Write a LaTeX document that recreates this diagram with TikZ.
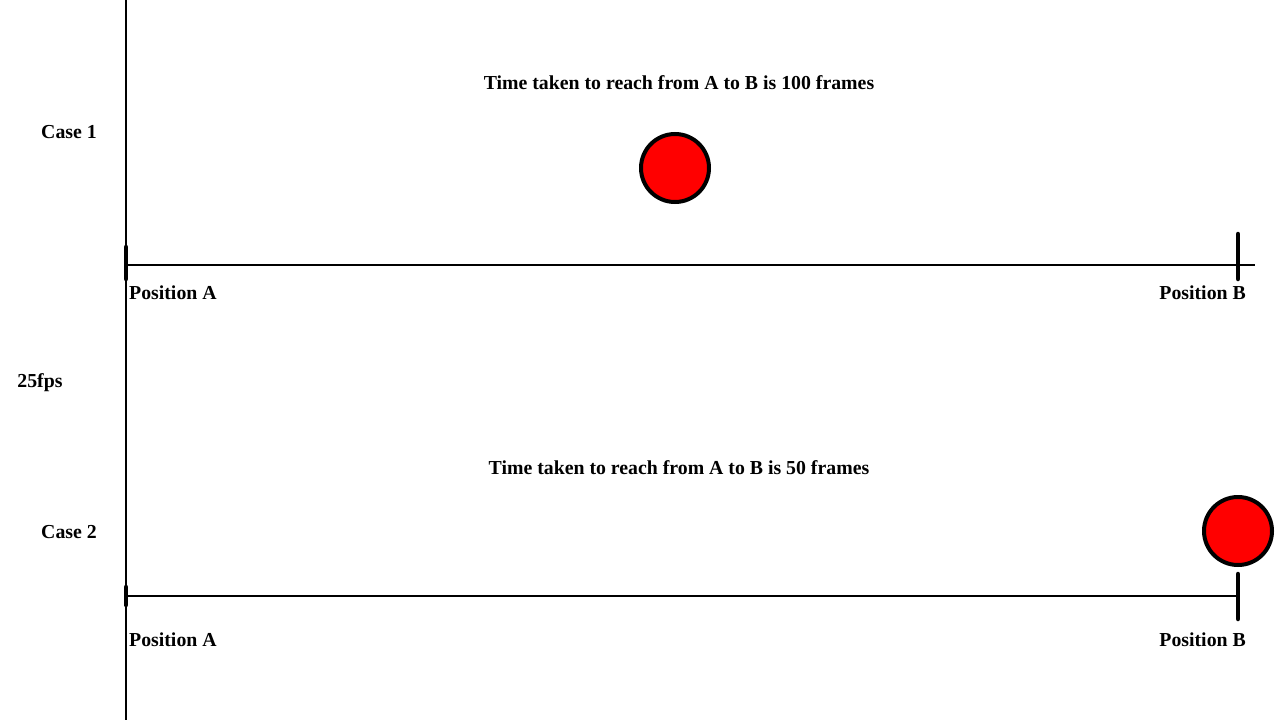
\documentclass[tikz,border=0pt]{standalone}
\usepackage{fontspec}
\setmainfont{Liberation Serif}
\begin{document}
\begin{tikzpicture}[x=1pt,y=-1pt,
  lbl/.style={font=\fontsize{19.8}{23}\selectfont\bfseries, inner sep=0pt},
  axis/.style={line width=2pt},
  tick/.style={line width=4.5pt, line cap=round},
  ball/.style={circle, draw=black, fill=red, line width=4pt, minimum size=68pt, inner sep=0pt}]
\useasboundingbox (0,0) rectangle (1280,720);
% vertical line
\coordinate (vt) at (126,0);
\coordinate (vb) at (126,720);
\draw[axis] (vt) -- (vb);
% labels
\node[lbl] (case1) at (69,132) {Case 1};
\node[lbl] (fps) at (40,383) {25fps};
\node[lbl] (case2) at (69,532) {Case 2};
\node[lbl] (t1) at (679,83) {Time taken to reach from A to B is 100 frames};
\node[lbl] (t2) at (679,468) {Time taken to reach from A to B is 50 frames};
% case 1 axis
\coordinate (a1) at (126,265);
\coordinate (e1) at (1255,265);
\draw[axis] (a1) -- (e1);
\coordinate (ta1) at (126,247);
\coordinate (tb1) at (126,279);
\draw[tick] (ta1) -- (tb1);
\coordinate (tc1) at (1238,234);
\coordinate (td1) at (1238,279);
\draw[tick] (tc1) -- (td1);
\node[lbl, anchor=west] (pa1) at (129,293) {Position A};
\node[lbl, anchor=east] (pb1) at (1246,293) {Position B};
\node[ball] (b1) at (675,168) {};
% case 2 axis
\coordinate (a2) at (126,596);
\coordinate (e2) at (1240,596);
\draw[axis] (a2) -- (e2);
\coordinate (ta2) at (126,587);
\coordinate (tb2) at (126,605);
\draw[tick] (ta2) -- (tb2);
\coordinate (tc2) at (1238,574);
\coordinate (td2) at (1238,619);
\draw[tick] (tc2) -- (td2);
\node[lbl, anchor=west] (pa2) at (129,640) {Position A};
\node[lbl, anchor=east] (pb2) at (1246,640) {Position B};
\node[ball] (b2) at (1238,531) {};
\end{tikzpicture}
\end{document}
